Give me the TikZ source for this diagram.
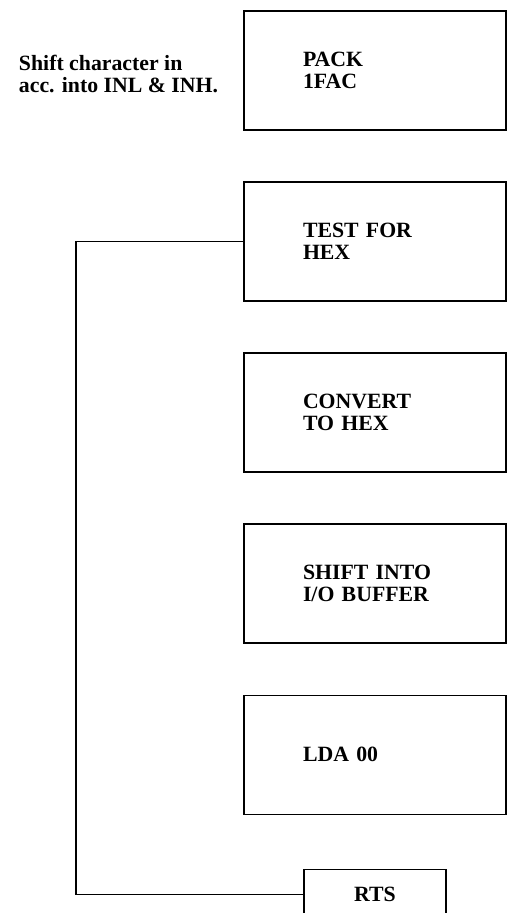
\documentclass[tikz,border=0pt]{standalone}
\usepackage{fontspec}
\setmainfont{Liberation Serif}
\usetikzlibrary{positioning}

\begin{document}
\begin{tikzpicture}[font=\fontsize{15.5}{15.6}\selectfont\bfseries,
  node distance=1.26cm,
  block/.style={draw, line width=1.2pt, minimum width=6.55cm, minimum height=2.975cm,
    text width=3.6cm, inner xsep=1.475cm, align=left},
  ret/.style={draw, line width=1.2pt, minimum width=3.55cm, minimum height=1.25cm}]

  \useasboundingbox (0,0) rectangle (12.975,-22.825);

  % boxes
  \node[block] (pack) at (9.375,-1.7625) {PACK\\1FAC};
  \node[block, below=of pack] (test) {TEST FOR\\HEX};
  \node[block, below=of test] (conv) {CONVERT\\TO HEX};
  \node[block, below=of conv] (shift) {SHIFT INTO\\I/O BUFFER};
  \node[block, below=of shift] (lda) {LDA 00};
  \node[ret, below=1.34cm of lda] (rts) {RTS};

  % note
  \node[align=left, anchor=west] (note) at (0.35,-1.85) {Shift character in\\acc. into INL \& INH.};

  % return path
  \draw[line width=1.2pt] (test.west) -- ++(-4.175,0) |- (rts.west);

\end{tikzpicture}
\end{document}
